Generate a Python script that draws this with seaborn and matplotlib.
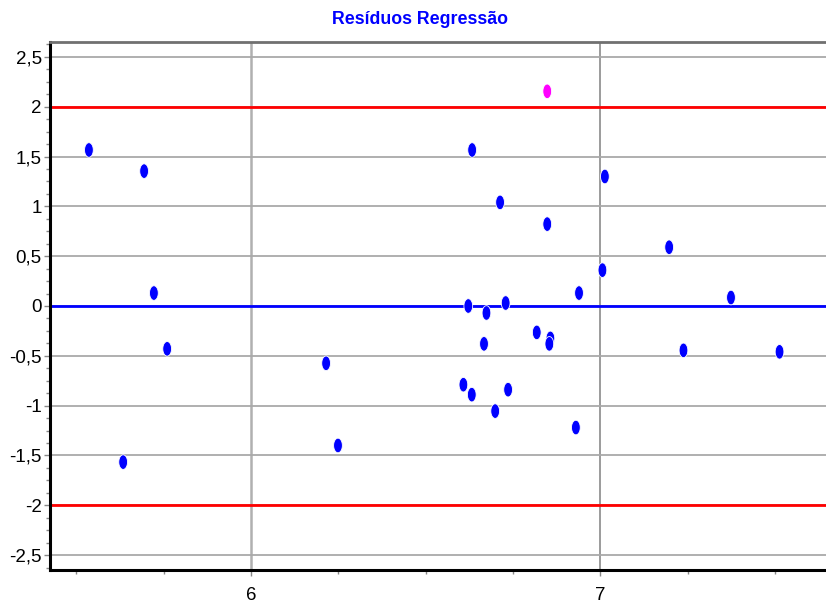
import numpy as np
import pandas as pd
import matplotlib
matplotlib.use("Agg")
import matplotlib.pyplot as plt
from matplotlib.path import Path
from matplotlib.ticker import MultipleLocator, FuncFormatter
import seaborn as sns

# ---- data ----
fitted = [5.536, 5.694, 5.722, 5.760, 5.634, 6.215, 6.249, 6.633, 6.713, 6.848,
          6.848, 7.013, 7.006, 6.939, 7.197, 7.374, 6.622, 6.674, 6.729, 6.667,
          6.818, 6.857, 6.854, 6.608, 6.632, 6.736, 6.699, 6.930, 7.238, 7.513]
residuals = [1.566, 1.354, 0.13, -0.43, -1.567, -0.575, -1.40, 1.566, 1.04, 2.155,
             0.822, 1.30, 0.36, 0.13, 0.59, 0.085, 0.0, -0.07, 0.03, -0.38,
             -0.265, -0.325, -0.38, -0.79, -0.89, -0.84, -1.055, -1.22, -0.445, -0.46]
limits = [-2, 2]
center = 0
title = "Resíduos Regressão"

df = pd.DataFrame({"ajustado": fitted, "residuo": residuals})
df["fora"] = df["residuo"].abs() > 2

sns.set_style("white")
plt.rcParams["font.family"] = ["Liberation Sans", "DejaVu Sans"]

fig = plt.figure(figsize=(8.26, 6.06), dpi=100)
ax = fig.add_axes([50 / 826, 36 / 606, 1 - 50 / 826, (570 - 42) / 606])

# elliptical marker
t = np.linspace(0, 2 * np.pi, 60)
ell = Path(np.column_stack([0.3 * np.cos(t), 0.5 * np.sin(t)]), closed=True)

ax.set_xlim(5.4246, 7.646)
ax.set_ylim(-2.65, 2.65)

ax.xaxis.set_major_locator(MultipleLocator(1))
ax.xaxis.set_minor_locator(MultipleLocator(0.25))
ax.yaxis.set_major_locator(MultipleLocator(0.5))
ax.yaxis.set_minor_locator(MultipleLocator(0.125))

fmt = FuncFormatter(lambda v, p: ("%g" % round(v, 3)).replace(".", ","))
ax.xaxis.set_major_formatter(fmt)
ax.yaxis.set_major_formatter(fmt)

ax.grid(True, which="major", axis="y", color="#a9a9a9", linewidth=1.3, zorder=0)
ax.grid(True, which="major", axis="x", color="#b0b0b0", linewidth=1.8, zorder=0)
ax.set_axisbelow(True)

for lim in limits:
    ax.axhline(lim, color="#ff0000", linewidth=2.0, zorder=2)
ax.axhline(center, color="#0000ff", linewidth=2.0, zorder=2)

sns.scatterplot(data=df, x="ajustado", y="residuo", hue="fora",
                palette={False: "#0000ff", True: "#ff00ff"},
                marker=ell, s=110, edgecolor="white", linewidth=0.6,
                legend=False, ax=ax, zorder=3)

ax.set_xlabel("")
ax.set_ylabel("")

for s in ["left", "bottom"]:
    ax.spines[s].set_visible(True)
    ax.spines[s].set_color("black")
    ax.spines[s].set_linewidth(2.2)
ax.spines["top"].set_color("#707070")
ax.spines["top"].set_linewidth(2.0)
ax.spines["right"].set_visible(False)

ax.tick_params(axis="both", which="major", labelsize=13.5, colors="#000000",
               length=4, width=1, color="#888888", pad=2)
ax.tick_params(axis="x", which="major", pad=8)
ax.tick_params(axis="both", which="minor", length=3, width=1, color="#888888")
ax.tick_params(left=True, bottom=True, which="both")

fig.canvas.draw()
xticks = ax.get_xticks()
for val, gl in zip(xticks, ax.xaxis.get_gridlines()):
    if abs(val - 7) < 1e-6:
        gl.set_color("#808080")
        gl.set_linewidth(1.1)

fig.text(420 / 826, 1 - 20 / 606, title, color="#0000ff", fontsize=12.8,
         fontweight="bold", ha="center", va="center")

fig.savefig("out.png", dpi=100)
